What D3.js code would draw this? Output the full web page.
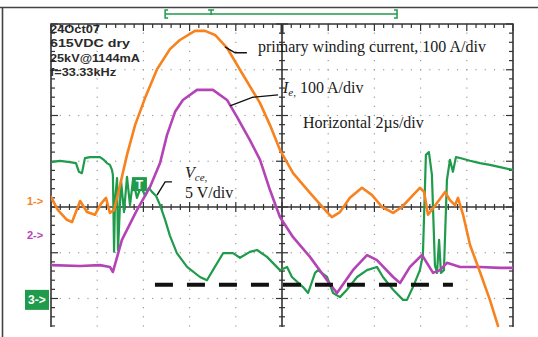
<!DOCTYPE html>
<html><head><meta charset="utf-8">
<script src="https://cdn.jsdelivr.net/npm/d3@7"></script>
<style>body{margin:0;background:#fff}svg{display:block}</style>
</head><body>
<svg id="c" width="538" height="337"></svg>
<script>
// ---- data: time (µs), screen divisions (0 = centre line) ----
const primaryCurrent = [[0,0.22],[0.30,-0.07],[0.69,-0.28],[0.91,-0.33],[1.26,0.13],[1.56,-0.11],[1.90,-0.17],[2.16,0.07],[2.38,0.20],[2.55,-0.13],[2.73,-0.07],[2.99,0.48],[3.29,1.14],[3.64,1.79],[4.07,2.38],[4.59,3.01],[5.15,3.45],[5.58,3.65],[6.23,3.85],[6.67,3.85],[7.10,3.76],[7.62,3.48],[8.31,2.89],[9.05,2.27],[9.48,1.79],[9.91,1.25],[10.48,0.74],[11.21,0.31],[11.95,-0.11],[12.16,-0.22],[12.51,-0.11],[12.94,0.20],[13.46,0.42],[13.90,0.26],[14.33,0.00],[14.81,-0.13],[15.19,0.00],[15.63,0.24],[15.97,0.42],[16.15,0.33],[16.32,-0.17],[16.58,0.00],[17.06,0.33],[17.27,0.15],[17.49,0.04],[17.62,0.20],[17.84,-0.17],[18.14,-0.83],[18.57,-1.42],[19.00,-2.03],[19.35,-2.60]];
const emitterCurrent = [[0,-1.27],[1.26,-1.29],[2.12,-1.27],[2.55,-1.31],[2.68,-1.42],[3.07,-0.72],[3.72,-0.07],[4.29,0.44],[4.72,0.96],[5.02,1.57],[5.37,2.08],[5.71,2.34],[6.32,2.56],[7.01,2.56],[7.62,2.34],[8.05,1.97],[8.61,1.46],[9.05,1.03],[9.48,0.37],[9.91,-0.22],[10.48,-0.66],[11.21,-1.09],[11.95,-1.60],[12.38,-1.88],[13.07,-1.38],[13.68,-1.05],[14.11,-1.16],[14.81,-1.53],[15.11,-1.66],[15.54,-1.31],[16.06,-1.05],[16.54,-1.44],[16.84,-1.38],[17.14,-1.22],[17.71,-1.31],[18.57,-1.31],[19.44,-1.33],[20,-1.33]];
const collectorEmitterVoltage = [[0,0.98],[0.39,1.01],[0.82,0.98],[1.08,0.96],[1.21,0.77],[1.34,0.74],[1.47,1.07],[1.69,1.09],[2.12,1.09],[2.29,1.03],[2.42,0.96],[2.55,0.92],[2.64,0.81],[2.68,0.70],[2.73,-0.98],[2.77,0.15],[2.86,0.63],[2.90,-0.94],[2.94,-0.50],[3.03,0.59],[3.16,-0.11],[3.29,0.66],[3.42,0.04],[3.55,0.59],[3.72,0.20],[3.90,0.46],[4.07,0.24],[4.24,0.42],[4.37,0.33],[4.55,0.24],[4.72,0.04],[4.94,-0.28],[5.15,-0.63],[5.45,-1.01],[5.89,-1.31],[6.45,-1.53],[6.75,-1.60],[7.01,-1.38],[7.45,-1.01],[7.88,-1.01],[8.18,-1.11],[8.61,-0.98],[8.92,-0.94],[9.35,-1.09],[9.91,-1.38],[10.22,-1.31],[10.43,-1.53],[10.91,-1.75],[11.13,-1.88],[11.43,-1.44],[11.56,-1.38],[11.95,-1.53],[12.21,-1.88],[12.51,-1.97],[12.81,-1.81],[13.25,-1.53],[13.68,-1.38],[14.11,-1.31],[14.37,-1.53],[14.81,-1.81],[15.24,-2.03],[15.41,-2.03],[15.67,-1.75],[15.97,-1.38],[16.10,-1.05],[16.23,1.14],[16.36,1.20],[16.49,0.70],[16.62,-1.27],[16.71,-1.44],[16.80,-0.72],[16.88,-1.44],[17.01,-1.38],[17.14,0.59],[17.27,1.03],[17.40,0.77],[17.53,1.09],[17.71,1.07],[18.14,1.01],[18.57,0.96],[19.00,0.92],[19.44,0.87],[20,0.81]];
const thresholdLine = [[4.50,-1.70],[17.40,-1.70]];
const infoLines = ["24Oct07","615VDC dry","25kV@1144mA","f=33.33kHz"];
const infoWidths = [50,80,90,66];
const channelLabels = ["1->","2->","3->"];
const channelRefs = [0.13,-0.61,-2.03];
const channelColors = ["#f7821e","#b444b6","#1f9b4b"];
const triggerWindow = [4.94,14.98];
const triggerPos = 6.93;
const triggerLevel = [3.85,0.50];

// ---- scales ----
const W=538,H=337;
const L=51,R=513,T=24,B=327;
const x=d3.scaleLinear().domain([0,20]).range([L,R]);
const y=d3.scaleLinear().domain([-4,4]).range([T+8*45.75,T]);
const svg=d3.select("#c");
const axisCol="#333";

// outer frame
svg.append("path").attr("d",`M0,7.5H${W}M2.5,7.5V${H}`).attr("stroke","#444").attr("stroke-width",1.6).attr("fill","none");

// dotted graticule
const g=svg.append("g");
const xMinor=d3.range(0,20.001,0.4);
const yMinor=d3.range(4,-2.65,-0.2);
[2,4,6,8,12,14,16,18].forEach(t=>{
  yMinor.forEach(v=>g.append("rect").attr("x",x(t)-0.6).attr("y",y(v)-0.6).attr("width",1.2).attr("height",1.2).attr("fill","#9a9a9a"));
});
[3,2,1,-1,-2].forEach(v=>{
  xMinor.forEach(t=>g.append("rect").attr("x",x(t)-0.6).attr("y",y(v)-0.6).attr("width",1.2).attr("height",1.2).attr("fill","#9a9a9a"));
});

// border axes
const ax=svg.append("g").attr("stroke",axisCol).attr("fill","none");
ax.append("path").attr("d",`M${L},${B}V${T}H${R}V${B}`).attr("stroke-width",1.6);
xMinor.forEach((t,i)=>{
  const len = (i%5===0)?7:4;
  ax.append("line").attr("x1",x(t)).attr("x2",x(t)).attr("y1",T).attr("y2",T+len).attr("stroke-width",1.2);
});
yMinor.forEach((v,i)=>{
  const major = Math.abs(v-Math.round(v))<1e-6;
  const len = major?7:4;
  ax.append("line").attr("x1",L).attr("x2",L+len).attr("y1",y(v)).attr("y2",y(v)).attr("stroke-width",1.2);
  ax.append("line").attr("x1",R).attr("x2",R-len).attr("y1",y(v)).attr("y2",y(v)).attr("stroke-width",1.2);
});
// centre cross
ax.append("line").attr("x1",L).attr("x2",R).attr("y1",y(0)).attr("y2",y(0)).attr("stroke-width",1.6);
ax.append("line").attr("x1",x(10)).attr("x2",x(10)).attr("y1",T).attr("y2",B).attr("stroke-width",1.6);
xMinor.forEach((t,i)=>{
  const len=(i%5===0)?5:3;
  ax.append("line").attr("x1",x(t)).attr("x2",x(t)).attr("y1",y(0)-len).attr("y2",y(0)+len).attr("stroke-width",1.2);
});
yMinor.forEach(v=>{
  const major = Math.abs(v-Math.round(v))<1e-6;
  const len=major?6:3;
  ax.append("line").attr("x1",x(10)-len).attr("x2",x(10)+len).attr("y1",y(v)).attr("y2",y(v)).attr("stroke-width",1.2);
});
ax.append("line").attr("x1",x(10)).attr("x2",x(10)).attr("y1",T).attr("y2",T+10).attr("stroke-width",3);

// traces
svg.append("clipPath").attr("id","clp").append("rect").attr("x",L).attr("y",T).attr("width",R-L).attr("height",B-T+2);
const line=d3.line().x(d=>x(d[0])).y(d=>y(d[1]));
const tr=svg.append("g").attr("clip-path","url(#clp)").attr("fill","none").attr("stroke-linejoin","round").attr("stroke-linecap","round");
tr.append("path").datum(collectorEmitterVoltage).attr("d",line).attr("stroke",channelColors[2]).attr("stroke-width",2.2);
tr.append("path").datum(emitterCurrent).attr("d",line).attr("stroke",channelColors[1]).attr("stroke-width",2.6);
tr.append("path").datum(primaryCurrent).attr("d",line).attr("stroke",channelColors[0]).attr("stroke-width",2.6);

// dashed threshold
svg.append("path").datum(thresholdLine).attr("d",line).attr("stroke","#111").attr("stroke-width",4).attr("stroke-dasharray","18,14").attr("fill","none");

// trigger window at top
const tg=svg.append("g").attr("stroke",channelColors[2]).attr("stroke-width",1.5).attr("fill","none");
tg.append("line").attr("x1",x(triggerWindow[0])).attr("x2",x(triggerWindow[1])).attr("y1",14).attr("y2",14);
tg.append("path").attr("d",`M${x(triggerWindow[0])+3},10H${x(triggerWindow[0])}V18H${x(triggerWindow[0])+3}`);
tg.append("path").attr("d",`M${x(triggerWindow[1])-3},10H${x(triggerWindow[1])}V18H${x(triggerWindow[1])-3}`);
tg.append("path").attr("d",`M${x(triggerPos)-3},10H${x(triggerPos)+3}M${x(triggerPos)},10V15`);

// trigger level marker
const tx=x(triggerLevel[0]), ty=y(triggerLevel[1]);
svg.append("rect").attr("x",tx-8).attr("y",ty-7).attr("width",15).attr("height",14).attr("fill",channelColors[2]);
svg.append("text").attr("x",tx-0.5).attr("y",ty+4.5).attr("text-anchor","middle").attr("fill","#fff").attr("font-family","Liberation Sans, Arial, sans-serif").attr("font-weight","bold").attr("font-size",12).text("T");

// info lines
infoLines.forEach((s,i)=>{
  svg.append("text").attr("x",L-1).attr("y",33+i*14.3).attr("fill","#2a2a2a")
    .attr("font-family","Liberation Sans, Arial, sans-serif").attr("font-weight","bold").attr("font-size",11)
    .attr("textLength",infoWidths[i]).attr("lengthAdjust","spacingAndGlyphs").text(s);
});

// channel markers
channelLabels.forEach((s,i)=>{
  const yy=y(channelRefs[i]);
  if(i===2){
    svg.append("rect").attr("x",25).attr("y",yy-10).attr("width",24).attr("height",20).attr("fill",channelColors[2]);
    svg.append("text").attr("x",28).attr("y",yy+4.5).attr("fill","#fff").attr("font-family","Liberation Sans, Arial, sans-serif").attr("font-weight","bold").attr("font-size",12).text(s);
  } else {
    svg.append("text").attr("x",27).attr("y",yy+4).attr("fill",channelColors[i]).attr("font-family","Liberation Sans, Arial, sans-serif").attr("font-weight","bold").attr("font-size",11).text(s);
  }
});

// annotations
const serif="Liberation Serif, Times New Roman, serif";
const ann=svg.append("g").attr("fill","#1a1a1a").attr("font-family",serif).attr("font-size",16);
ann.append("text").attr("x",x(8.96)).attr("y",y(3.39)).text("primary winding current, 100 A/div");
const ie=ann.append("text").attr("x",x(10.04)).attr("y",y(2.49));
ie.append("tspan").attr("font-style","italic").text("I");
ie.append("tspan").attr("font-style","italic").attr("font-size",11).attr("dy",3).text("e");
ie.append("tspan").attr("font-size",11).text(",");
ie.append("tspan").attr("dy",-3).text(" 100 A/div");
ann.append("text").attr("x",x(10.91)).attr("y",y(1.73)).text("Horizontal 2\u00b5s/div");
const vt=ann.append("text").attr("x",x(5.80)).attr("y",y(0.63));
vt.append("tspan").attr("font-style","italic").text("V");
vt.append("tspan").attr("font-style","italic").attr("font-size",11).attr("dy",3).text("ce");
vt.append("tspan").attr("font-size",11).text(",");
ann.append("text").attr("x",x(5.80)).attr("y",y(0.20)).text("5 V/div");

// leader lines
const leaders=[
  [[8.48,3.37],[7.97,3.37],[7.53,3.50]],
  [[9.83,2.45],[8.74,2.40],[7.75,2.21]],
  [[5.24,0.55],[4.94,0.55],[4.59,0.26]]
];
leaders.forEach(p=>svg.append("path").datum(p).attr("d",line).attr("stroke","#111").attr("stroke-width",1.4).attr("fill","none"));
</script>
</body></html>
